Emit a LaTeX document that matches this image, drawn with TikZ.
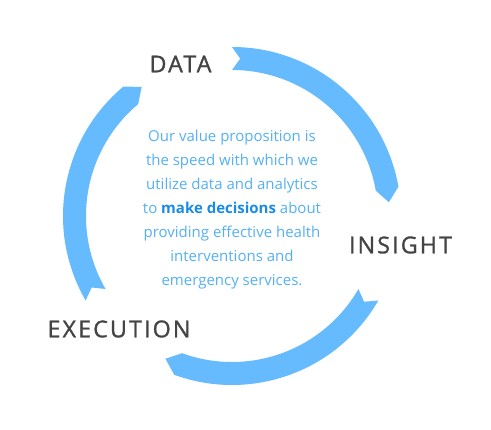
\documentclass[tikz,border=0pt]{standalone}
\usepackage{fontspec}
\setmainfont{Open Sans}
\newfontfamily\labelfont[LetterSpace=9, FakeBold=1.2]{Open Sans}
\usepackage{xcolor}
\usepackage{tikz}
\definecolor{ringblue}{RGB}{102,187,255}
\definecolor{textblue}{RGB}{84,176,242}
\definecolor{boldblue}{RGB}{24,140,228}
\definecolor{labelgray}{RGB}{68,68,68}
\tikzset{
  stage/.style={font=\labelfont\fontsize{23.3}{23}\selectfont, text=labelgray, inner sep=0pt},
  every node/.append style={font=\footnotesize}
}

\begin{document}
\begin{tikzpicture}[x=1pt, y=1pt]
    \useasboundingbox (0,0) rectangle (491,430);
    \foreach \a in {90,-30,210}
        \fill[ringblue, shift={(232,214)}] (\a:169pt)
            arc[start angle=\a, end angle=\a-80, radius=169pt]
            -- ({\a-85}:157.5pt) -- ({\a-80}:146pt)
            arc[start angle=\a-80, end angle=\a, radius=146pt]
            -- ({\a-3}:157.5pt) -- cycle;
    \node[stage] (data) at (180.5,366) {DATA};
    \node[stage] (insight) at (400.5,185) {INSIGHT};
    \node[stage] (execution) at (119,101) {EXECUTION};
    \node[align=center, text=textblue, font=\fontsize{15}{24}\selectfont] (pitch) at (232,220)
        {Our value proposition is\\
         the speed with which we\\
         utilize data and analytics\\
         to \textbf{\color{boldblue}make decisions} about\\
         providing effective health\\
         interventions and\\
         emergency services.};
\end{tikzpicture}
\end{document}
